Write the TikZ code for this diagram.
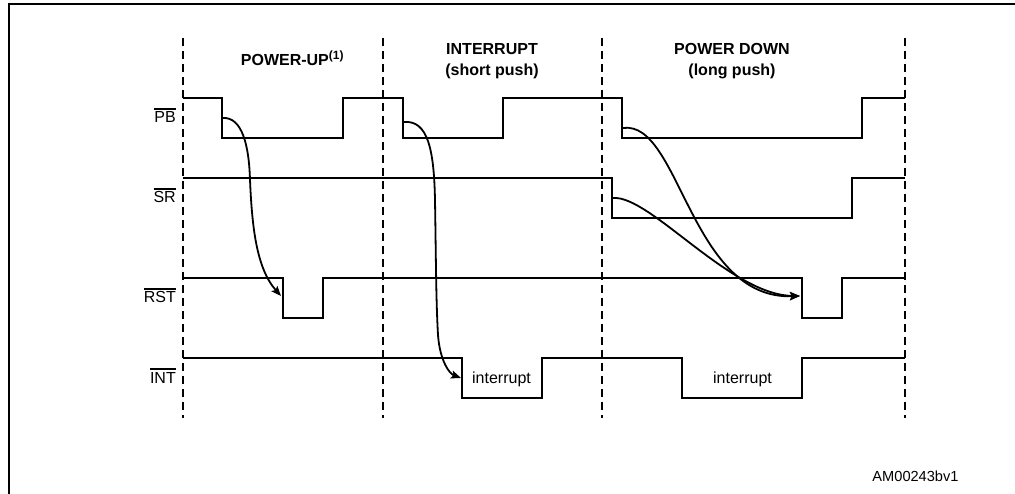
\documentclass[tikz,border=0pt]{standalone}
\usepackage{fontspec}
\setmainfont{Liberation Sans}
\usetikzlibrary{arrows.meta}
\tikzset{
  sig/.style={line width=2pt,line join=miter},
  sep/.style={line width=1.4pt,dash pattern=on 8pt off 5pt},
  arr/.style={line width=1.8pt,-{Stealth[length=10pt,width=8pt,inset=2pt]}},
  lbl/.style={font=\fontsize{16}{19}\selectfont,inner sep=0pt},
  hdr/.style={font=\fontsize{16}{21}\selectfont\bfseries,align=center,inner sep=0pt}
}
\newcommand{\bartext}[1]{\vbox{\hrule height 1.4pt\kern 2.2pt\hbox{#1}}}

\begin{document}
\begin{tikzpicture}[x=1pt,y=-1pt]
\useasboundingbox (0,0) rectangle (1015,494);
% frame
\draw[line width=1.5pt] (9,494) -- (9,4) -- (1015,4);
% phases
\foreach \x in {183,383,602,905} \draw[sep] (\x,38) -- (\x,418);
\node[hdr,anchor=base] (h1) at (292.5,65.7) {POWER-UP\textsuperscript{\fontsize{12}{12}\selectfont(1)}};
\node[hdr,anchor=north] (h2) at (492,43.5) {INTERRUPT\\(short push)};
\node[hdr,anchor=north] (h3) at (732,43.5) {POWER DOWN\\(long push)};
% signal names
\node[lbl,anchor=base east] (l1) at (176,123) {\bartext{PB}};
\node[lbl,anchor=base east] (l2) at (176,203) {\bartext{SR}};
\node[lbl,anchor=base east] (l3) at (176,303) {\bartext{RST}};
\node[lbl,anchor=base east] (l4) at (176,383) {\bartext{INT}};
% waveforms
\draw[sig] (183,98) -- (222,98) -- (222,138) -- (343,138) -- (343,98) -- (403,98) -- (403,138) -- (503,138) -- (503,98) -- (622,98) -- (622,138) -- (862,138) -- (862,98) -- (905,98);
\draw[sig] (183,178) -- (612,178) -- (612,218) -- (852,218) -- (852,178) -- (905,178);
\draw[sig] (183,278) -- (283,278) -- (283,318) -- (323,318) -- (323,278) -- (802,278) -- (802,318) -- (842,318) -- (842,278) -- (905,278);
\draw[sig] (183,358) -- (462,358) -- (462,398) -- (542,398) -- (542,358) -- (682,358) -- (682,398) -- (802,398) -- (802,358) -- (905,358);
\node[lbl,anchor=base] (i1) at (501.5,383) {interrupt};
\node[lbl,anchor=base] (i2) at (742.5,383) {interrupt};
% edges
\coordinate (pb1) at (223,118);
\coordinate (pb2) at (404,122);
\coordinate (pb3) at (623,128);
\coordinate (sr1) at (613,198);
\coordinate (rst1) at (281,296);
\coordinate (rst2) at (800,296);
\coordinate (int1) at (461,378);
\draw[arr] (pb1) .. controls (242,117) and (249,145) .. (250,180) .. controls (252,225) and (256,268) .. (rst1);
\draw[arr] (pb2) .. controls (428,120) and (434,150) .. (435,200) .. controls (436,260) and (436,300) .. (438,335) .. controls (440,362) and (450,374) .. (int1);
\draw[arr] (pb3) .. controls (680,120) and (690,300) .. (rst2);
\draw[arr] (sr1) .. controls (650,195) and (730,295) .. (rst2);
% id
\node[font=\fontsize{14.6}{17}\selectfont,inner sep=0pt,anchor=base] (id) at (915.5,481.7) {AM00243bv1};
\end{tikzpicture}
\end{document}
